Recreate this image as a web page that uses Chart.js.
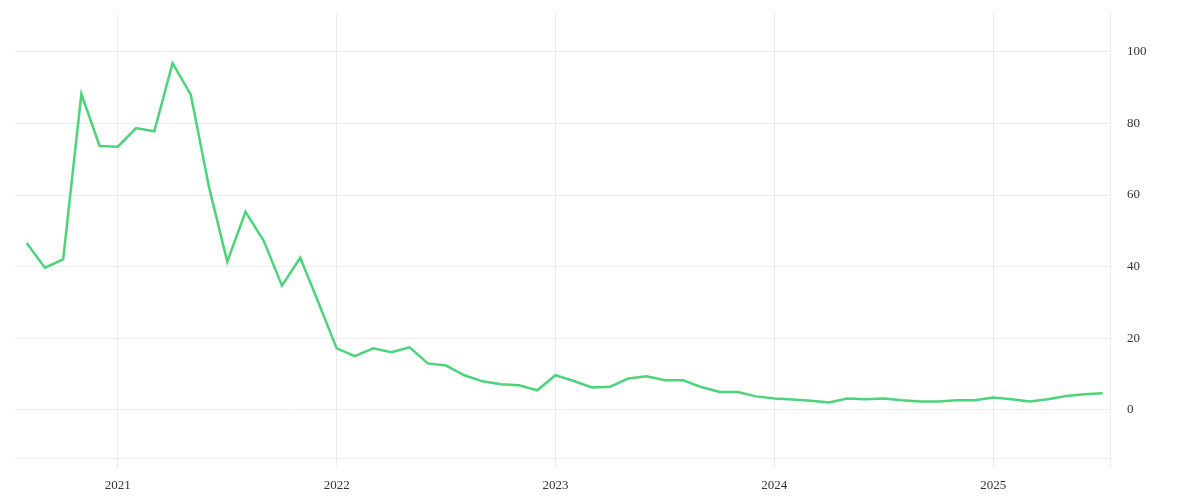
<!DOCTYPE html>
<html>
<head>
<meta charset="utf-8">
<script src="https://cdn.jsdelivr.net/npm/chart.js@4"></script>
<style>
  html, body { margin: 0; padding: 0; background: #fff; }
  #wrap { width: 1200px; height: 500px; }
</style>
</head>
<body>
<div id="wrap"><canvas id="lineChart" width="1200" height="500"></canvas></div>
<script>
// monthly series, Aug 2020 .. Jul 2025
const months = [
  '2020-08','2020-09','2020-10','2020-11','2020-12',
  '2021-01','2021-02','2021-03','2021-04','2021-05','2021-06','2021-07','2021-08','2021-09','2021-10','2021-11','2021-12',
  '2022-01','2022-02','2022-03','2022-04','2022-05','2022-06','2022-07','2022-08','2022-09','2022-10','2022-11','2022-12',
  '2023-01','2023-02','2023-03','2023-04','2023-05','2023-06','2023-07','2023-08','2023-09','2023-10','2023-11','2023-12',
  '2024-01','2024-02','2024-03','2024-04','2024-05','2024-06','2024-07','2024-08','2024-09','2024-10','2024-11','2024-12',
  '2025-01','2025-02','2025-03','2025-04','2025-05','2025-06','2025-07'
];
const values = [
  46.6, 39.7, 42.0, 88.2, 73.7,
  73.5, 78.7, 77.8, 96.8, 88.0, 62.2, 41.4, 55.3, 47.2, 34.7, 42.5, 30.0,
  17.2, 15.0, 17.2, 16.1, 17.5, 13.0, 12.4, 9.7, 8.0, 7.2, 6.9, 5.5,
  9.7, 8.1, 6.3, 6.5, 8.8, 9.4, 8.3, 8.3, 6.4, 5.0, 5.0, 3.8,
  3.2, 2.9, 2.6, 2.1, 3.2, 3.0, 3.2, 2.7, 2.4, 2.4, 2.7, 2.7,
  3.5, 3.0, 2.4, 3.0, 3.9, 4.4, 4.7
];
const yearTicks = [2021, 2022, 2023, 2024, 2025];
const yTicks = [0, 20, 40, 60, 80, 100];

const xMin = 2020.53, xMax = 2025.534;

function toYear(m) {
  const p = m.split('-');
  return Number(p[0]) + (Number(p[1]) - 1) / 12;
}

const points = months.map((m, i) => ({ x: toYear(m), y: values[i] }));

const gridColor = '#ececec';
const tickFont = { family: '"Liberation Serif", "DejaVu Serif", serif', size: 13 };

const ctx = document.getElementById('lineChart').getContext('2d');

const lineChart = new Chart(ctx, {
  type: 'line',
  data: {
    datasets: [{
      data: points,
      borderColor: '#4cd47b',
      borderWidth: 2.5,
      pointRadius: 0,
      tension: 0,
      fill: false
    }]
  },
  options: {
    responsive: false,
    animation: false,
    layout: { padding: { left: 15, top: 13, right: 0, bottom: 0 } },
    plugins: {
      legend: { display: false },
      tooltip: { enabled: false }
    },
    scales: {
      x: {
        type: 'linear',
        min: xMin,
        max: xMax,
        afterBuildTicks: scale => {
          scale.ticks = yearTicks.concat([xMax]).map(v => ({ value: v }));
        },
        afterFit: scale => {
          scale.height = 42;
          scale.paddingLeft = 0;
          scale.paddingRight = 0;
        },
        grid: { color: gridColor, drawTicks: true, tickLength: 10, tickColor: gridColor },
        border: { display: true, color: gridColor },
        ticks: {
          color: '#333',
          font: tickFont,
          padding: 10,
          maxRotation: 0,
          autoSkip: false,
          callback: v => (Number.isInteger(v) ? String(v) : '')
        }
      },
      y: {
        position: 'right',
        min: -13.4,
        max: 110.8,
        afterBuildTicks: scale => {
          scale.ticks = yTicks.map(v => ({ value: v }));
        },
        afterFit: scale => {
          scale.width = 90;
          scale.paddingTop = 0;
          scale.paddingBottom = 0;
        },
        grid: { color: gridColor, drawTicks: false },
        border: { display: true, color: gridColor },
        ticks: {
          color: '#333',
          font: tickFont,
          padding: 17,
          callback: v => String(v)
        }
      }
    }
  }
});
</script>
</body>
</html>
